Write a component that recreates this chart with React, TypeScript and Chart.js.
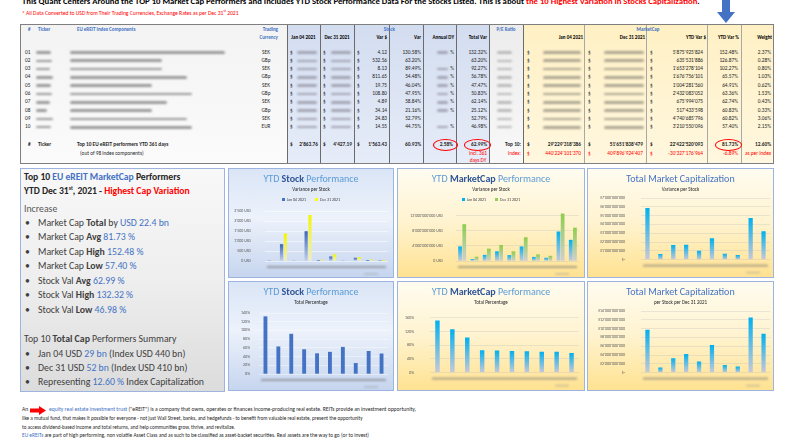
import React, { useEffect, useRef } from "react";
import { Chart, registerables } from "chart.js";
Chart.register(...registerables);

const FONT = "Carlito, Lato, 'Liberation Sans', sans-serif";

// ---------- data ----------
const rowIds = ["01", "02", "03", "04", "05", "06", "07", "08", "09", "10"];
const currencies = ["SEK", "GBp", "SEK", "GBp", "SEK", "GBp", "SEK", "GBp", "SEK", "EUR"];
const stockJanUsd = [3.16, 842.66, 9.08, 1489.81, 42.9, 226.9, 8.31, 161.34, 47.04, 32.51];
const stockDecUsd = [7.28, 1375.22, 17.21, 2301.46, 62.65, 335.7, 13.2, 195.48, 71.87, 47.06];
const stockVarUsd = [4.12, 532.56, 8.13, 811.65, 19.75, 108.8, 4.89, 34.14, 24.83, 14.55];
const stockVarPct = [130.58, 63.2, 89.49, 54.48, 46.04, 47.95, 58.84, 21.16, 52.79, 44.75];
const hasDY = [true, false, true, true, true, true, true, true, false, true];
const stockTotalVarPct = [132.32, 63.2, 92.27, 56.78, 47.47, 50.83, 62.14, 25.12, 52.79, 46.98];
const mcapJan = [3853e6, 501e6, 1617e6, 2557e6, 1547e6, 3838e6, 1077e6, 851e6, 7795e6, 5593e6];
const mcapDec = [9729e6, 1136e6, 3270e6, 4234e6, 2551e6, 6271e6, 1753e6, 1368e6, 12535e6, 8804e6];
const mcapVarUsd = [5875925824, 635531886, 1653278104, 1676756101, 1004281560, 2432083052, 675994075, 517433598, 4740685796, 3210550096];
const mcapVarPct = [152.48, 126.87, 102.27, 65.57, 64.91, 63.36, 62.74, 60.83, 60.82, 57.4];
const weights = [2.37, 0.28, 0.8, 1.03, 0.62, 1.53, 0.43, 0.33, 3.06, 2.15];
const nameBlurW = [155, 92, 92, 117, 82, 122, 97, 82, 117, 122];
const tickerBlurW = [15, 16, 14, 17, 15, 16, 14, 11, 17, 15];

const fmtNum = (n: number, d = 0) => {
  const s = Math.abs(n).toFixed(d);
  const [i, f] = s.split(".");
  const g = i.replace(/\B(?=(\d{3})+(?!\d))/g, "'");
  return (n < 0 ? "-" : "") + g + (f ? "." + f : "");
};

// ---------- helpers ----------
type TP = { x: number; y: number; children?: any; size?: number; bold?: boolean; color?: string; align?: "left" | "right" | "center"; style?: any };
function T({ x, y, children, size = 5.5, bold = false, color = "#262626", align = "left", style = {} }: TP) {
  const s: any = { position: "absolute", top: y, fontSize: size, fontWeight: bold ? 700 : 400, color, whiteSpace: "nowrap", lineHeight: 1, transform: "translateY(-50%)", ...style };
  if (align === "left") s.left = x;
  else if (align === "right") s.right = 800 - x;
  else { s.left = x; s.transform = "translate(-50%,-50%)"; }
  return <div style={s}>{children}</div>;
}
function Blur({ x, y, w, h = 3, color = "#8a8a8a" }: any) {
  return <div style={{ position: "absolute", left: x, top: y - h / 2, width: w, height: h, background: color, filter: "blur(1px)", borderRadius: 2, opacity: 0.85 }} />;
}
function Box({ x, y, w, h, bg, border }: any) {
  return <div style={{ position: "absolute", left: x, top: y, width: w, height: h, background: bg, border, boxSizing: "border-box" }} />;
}

const grad = (c1: string, c2: string) => (ctx: any) => {
  const chart = ctx.chart;
  const ys = chart.scales && chart.scales.y;
  if (!ys || ctx.raw == null || typeof ctx.raw !== "number") return c1;
  const yT = ys.getPixelForValue(ctx.raw);
  const yB = ys.getPixelForValue(0);
  if (!isFinite(yT) || !isFinite(yB) || Math.abs(yB - yT) < 1) return c1;
  const g = chart.ctx.createLinearGradient(0, yT, 0, yB);
  g.addColorStop(0, c1);
  g.addColorStop(1, c2);
  return g;
};

const blurLabels = {
  id: "blurLabels",
  afterDraw(chart: any) {
    const { ctx, chartArea: a } = chart;
    ctx.save();
    ctx.filter = "blur(1.2px)";
    ctx.fillStyle = "rgba(110,110,110,0.55)";
    ctx.fillRect(a.left + 2, a.bottom + 5, a.right - a.left - 4, 2);
    ctx.fillStyle = "rgba(140,140,140,0.35)";
    ctx.fillRect(a.right - 24, a.bottom + 12, 14, 2);
    ctx.restore();
  },
};

type CfgIn = {
  datasets: any[];
  max: number;
  step: number;
  fmt: (v: number) => string;
  axisW: number;
  tickPad: number;
  pad: { top: number; right: number; bottom: number };
  gridColor?: string;
};
function barConfig(c: CfgIn) {
  return {
    type: "bar",
    data: { labels: rowIds, datasets: c.datasets },
    options: {
      responsive: false,
      animation: false,
      events: [],
      layout: { padding: { left: 0, top: c.pad.top, right: c.pad.right, bottom: c.pad.bottom } },
      plugins: { legend: { display: false }, tooltip: { enabled: false }, title: { display: false } },
      scales: {
        x: { display: false, grid: { display: false } },
        y: {
          min: 0,
          max: c.max,
          border: { display: false },
          grid: { color: c.gridColor || "rgba(190,190,190,0.55)", lineWidth: 0.6, drawTicks: false },
          ticks: { stepSize: c.step, padding: c.tickPad, color: "#595959", font: { size: 4, family: FONT }, callback: (v: any) => c.fmt(Number(v)) },
          afterFit: (s: any) => { s.width = c.axisW; },
        },
      },
    },
    plugins: [blurLabels],
  };
}

function ChartBox({ x, y, w, h, cfg }: any) {
  const ref = useRef<HTMLCanvasElement>(null);
  useEffect(() => {
    const ch = new Chart(ref.current as HTMLCanvasElement, cfg() as any);
    return () => ch.destroy();
  }, []);
  return <canvas ref={ref} width={w} height={h} style={{ position: "absolute", left: x, top: y, width: w, height: h }} />;
}

const BLUE = "#4472c4";
const LBLUE = "#5b9bd5";

function Panel({ x, y, w, h, kind, title, sub, legend, chart }: any) {
  const bg = kind === "blue"
    ? "linear-gradient(180deg,#dae5f6 0%,#edf2fb 45%,#c6d5ee 100%)"
    : "linear-gradient(180deg,#fffcf0 0%,#fff3cf 50%,#ffe291 100%)";
  return (
    <>
      <Box x={x} y={y} w={w} h={h} bg={bg} border="1px solid #9db4e0" />
      {chart}
      <div style={{ position: "absolute", left: x, width: w, top: y + 6, textAlign: "center", fontSize: 10, lineHeight: 1, whiteSpace: "nowrap" }}>{title}</div>
      <div style={{ position: "absolute", left: x, width: w, top: y + 19, textAlign: "center", fontSize: 5, lineHeight: 1, color: "#262626", whiteSpace: "nowrap" }}>{sub}</div>
      {legend && (
        <div style={{ position: "absolute", left: x, width: w, top: y + 30, textAlign: "center", fontSize: 4, lineHeight: 1, color: "#404040", whiteSpace: "nowrap" }}>
          <span style={{ display: "inline-block", width: 3, height: 3, background: legend[0][1], marginRight: 2 }} />{legend[0][0]}
          <span style={{ display: "inline-block", width: 3, height: 3, background: legend[1][1], marginLeft: 9, marginRight: 2 }} />{legend[1][0]}
        </div>
      )}
    </>
  );
}

// column geometry for the table
const rowY = (i: number) => 52.5 + i * 8.3;

export default function App() {
  const stockDividers = [287, 320, 354, 389, 423, 456, 489, 523];
  const mcDividers = [584, 646, 707, 741];
  const bulletSize = 9.8;
  return (
    <div style={{ position: "absolute", left: 0, top: 0, width: 800, height: 440, overflow: "hidden", background: "#fff", fontFamily: FONT }}>
      {/* headline */}
      <T x={22} y={1} size={8.7} bold color="#000">
        This Quant Centers Around the TOP 10 Market Cap Performers and Includes YTD Stock Performance Data For the Stocks Listed. This is about <span style={{ color: "#ff0000" }}>the 10 Highest Variation in Stocks Capitalization</span>.
      </T>
      <T x={22} y={12.5} size={5.6} color="#ff0000">* All Data Converted to USD from Their Trading Currencies, Exchange Rates as per Dec 31<sup style={{ fontSize: 3.5 }}>st</sup> 2021</T>

      {/* table backgrounds */}
      <Box x={20} y={24} w={267} h={139} bg="linear-gradient(180deg,#f3f3f3,#fbfbfb)" />
      <Box x={287} y={24} w={202} h={139} bg="linear-gradient(180deg,#d3ddf0,#e6ecf8)" />
      <Box x={489} y={24} w={34} h={139} bg="linear-gradient(180deg,#ececec,#f8f8f8)" />
      <Box x={523} y={24} w={250} h={139} bg="linear-gradient(180deg,#fff0c4,#fff7df)" />
      {stockDividers.map((d) => <div key={d} style={{ position: "absolute", left: d, top: 24, width: 1, height: 139, background: "#6b6b6b" }} />)}
      {mcDividers.map((d) => <div key={d} style={{ position: "absolute", left: d, top: 24, width: 1, height: 139, background: "#a8a8a8" }} />)}
      <Box x={20} y={24} w={754} h={140} bg="transparent" border="1px solid #7f7f7f" />

      {/* blue arrow */}
      <svg style={{ position: "absolute", left: 717, top: 0 }} width={18} height={24}>
        <polygon points="5,0 13,0 13,12 18,12 9,23 0,12 5,12" fill="#4472c4" />
      </svg>

      {/* header */}
      <T x={28} y={29} size={5} bold color={BLUE}>#</T>
      <T x={38} y={29} size={5} bold color={BLUE}>Ticker</T>
      <T x={77} y={29} size={5} bold color={BLUE}>EU eREIT Index Components</T>
      <T x={278} y={29} size={5} bold color={BLUE} align="right">Trading</T>
      <T x={278} y={37} size={5} bold color={BLUE} align="right">Currency</T>
      <T x={395} y={29} size={5} bold color={BLUE} align="right">Stock</T>
      <T x={506} y={29} size={5} bold color={BLUE} align="center">P/E Ratio</T>
      <T x={648} y={29} size={5} bold color={BLUE} align="center">MarketCap</T>
      <T x={303.5} y={36.5} size={5} bold color="#000" align="center">Jan 04 2021</T>
      <T x={337} y={36.5} size={5} bold color="#000" align="center">Dec 31 2021</T>
      <T x={387} y={36.5} size={5} bold color="#000" align="right">Var $</T>
      <T x={421} y={36.5} size={5} bold color="#000" align="right">Var</T>
      <T x={454} y={36.5} size={5} bold color="#000" align="right">Annual DY</T>
      <T x={487} y={36.5} size={5} bold color="#000" align="right">Total Var</T>
      <T x={583} y={36.5} size={5} bold color="#000" align="right">Jan 04 2021</T>
      <T x={645} y={36.5} size={5} bold color="#000" align="right">Dec 31 2021</T>
      <T x={706} y={36.5} size={5} bold color="#000" align="right">YTD Var $</T>
      <T x={739} y={36.5} size={5} bold color="#000" align="right">YTD Var %</T>
      <T x={772} y={36.5} size={5} bold color="#000" align="right">Weight</T>

      {/* rows */}
      {rowIds.map((id, i) => {
        const y = rowY(i);
        return (
          <React.Fragment key={id}>
            <T x={25} y={y} size={5.3}>{id}</T>
            <Blur x={36} y={y} w={tickerBlurW[i]} h={2.5} />
            <Blur x={70} y={y} w={nameBlurW[i]} h={2.8} />
            <T x={266} y={y} size={5.3} align="center">{currencies[i]}</T>
            <T x={290} y={y} size={5.3}>$</T>
            <Blur x={297} y={y} w={20} h={2.6} color="#9a9aa8" />
            <T x={323} y={y} size={5.3}>$</T>
            <Blur x={331} y={y} w={20} h={2.6} color="#9a9aa8" />
            <T x={357} y={y} size={5.3}>$</T>
            <T x={387} y={y} size={5.3} align="right">{fmtNum(stockVarUsd[i], 2)}</T>
            <T x={421} y={y} size={5.3} align="right">{stockVarPct[i].toFixed(2)}%</T>
            {hasDY[i] && <Blur x={437} y={y} w={11} h={2.6} color="#9a9aa8" />}
            {hasDY[i] && <T x={454} y={y} size={5.3} align="right">%</T>}
            <T x={487} y={y} size={5.3} align="right">{stockTotalVarPct[i].toFixed(2)}%</T>
            <Blur x={497} y={y} w={15} h={2.6} color="#b0b0b0" />
            <T x={527} y={y} size={5.3}>$</T>
            <Blur x={543} y={y} w={38} h={2.8} color="#a09a88" />
            <T x={588} y={y} size={5.3}>$</T>
            <Blur x={604} y={y} w={40} h={2.8} color="#a09a88" />
            <T x={650} y={y} size={5.3}>$</T>
            <T x={703} y={y} size={5.3} align="right">{fmtNum(mcapVarUsd[i])}</T>
            <T x={738} y={y} size={5.3} align="right">{mcapVarPct[i].toFixed(2)}%</T>
            <T x={771} y={y} size={5.3} align="right">{weights[i].toFixed(2)}%</T>
          </React.Fragment>
        );
      })}

      {/* totals */}
      <T x={28} y={145} size={5.3} bold>#</T>
      <T x={38} y={145} size={5.3} bold>Ticker</T>
      <T x={77} y={145} size={5.3} bold>Top 10 EU eREIT performers YTD 361 days</T>
      <T x={80} y={154} size={5.3}>(out of 98 index components)</T>
      <T x={290} y={145} size={5.3} bold>$</T>
      <T x={318} y={145} size={5.3} bold align="right">2'863.76</T>
      <T x={323} y={145} size={5.3} bold>$</T>
      <T x={352} y={145} size={5.3} bold align="right">4'427.19</T>
      <T x={357} y={145} size={5.3} bold>$</T>
      <T x={387} y={145} size={5.3} bold align="right">1'563.43</T>
      <T x={421} y={145} size={5.3} bold align="right">60.93%</T>
      <T x={453} y={145} size={5.3} bold align="right">2.58%</T>
      <T x={487} y={145} size={5.3} bold align="right">62.99%</T>
      <T x={521} y={145} size={5.3} bold align="right">Top 10:</T>
      <T x={527} y={145} size={5.3} bold>$</T>
      <T x={581} y={145} size={5.3} bold align="right">29'229'318'386</T>
      <T x={588} y={145} size={5.3} bold>$</T>
      <T x={643} y={145} size={5.3} bold align="right">51'651'838'479</T>
      <T x={650} y={145} size={5.3} bold>$</T>
      <T x={703} y={145} size={5.3} bold align="right">22'422'520'093</T>
      <T x={738} y={145} size={5.3} bold align="right">81.73%</T>
      <T x={771} y={145} size={5.3} bold align="right">12.60%</T>
      <T x={478} y={153.5} size={5.3} color="#ff0000" align="center">incl. 361</T>
      <T x={478} y={161} size={5.3} color="#ff0000" align="center">days DY</T>
      <T x={521} y={153.5} size={5.3} color="#ff0000" align="right">Index:</T>
      <T x={527} y={153.5} size={5.3} color="#ff0000">$</T>
      <T x={581} y={153.5} size={5.3} color="#ff0000" align="right">440'224'101'370</T>
      <T x={588} y={153.5} size={5.3} color="#ff0000">$</T>
      <T x={643} y={153.5} size={5.3} color="#ff0000" align="right">409'896'924'407</T>
      <T x={650} y={153.5} size={5.3} color="#ff0000">$</T>
      <T x={703} y={153.5} size={5.3} color="#ff0000" align="right">-30'327'176'964</T>
      <T x={738} y={153.5} size={5.3} color="#ff0000" align="right">-6.89%</T>
      <T x={771} y={153.5} size={5.3} color="#ff0000" align="right">as per Index</T>
      {[[445, 145, 25], [477, 145, 27], [728, 145, 27]].map(([cx, cy, w]) => (
        <div key={cx} style={{ position: "absolute", left: cx - w / 2, top: cy - 6, width: w, height: 12, border: "1px solid #ff0000", borderRadius: "50%", boxSizing: "border-box" }} />
      ))}

      {/* left summary panel */}
      <Box x={20} y={168} w={205} h={224} bg="linear-gradient(180deg,#f8f8f8 0%,#eeeeee 50%,#dcdcdc 100%)" border="1px solid #9db4e0" />
      <T x={24} y={178} size={9.6} bold color="#262626">Top 10 <span style={{ color: BLUE }}>EU eREIT MarketCap</span> Performers</T>
      <T x={24} y={190.5} size={9.6} bold color="#262626">YTD Dec 31<sup style={{ fontSize: 5.5 }}>st</sup>, 2021 - <span style={{ color: "#ff0000" }}>Highest Cap Variation</span></T>
      <T x={24} y={209.5} size={bulletSize} color="#595959">Increase</T>
      {[
        [<>Market Cap <b>Total</b> by </>, "USD 22.4 bn"],
        [<>Market Cap <b>Avg</b> </>, "81.73 %"],
        [<>Market Cap <b>High</b> </>, "152.48 %"],
        [<>Market Cap <b>Low</b> </>, "57.40 %"],
        [<>Stock Val <b>Avg</b> </>, "62.99 %"],
        [<>Stock Val <b>High</b> </>, "132.32 %"],
        [<>Stock Val <b>Low</b> </>, "46.98 %"],
      ].map((b: any, i) => (
        <React.Fragment key={i}>
          <T x={25} y={223.5 + i * 14.5} size={bulletSize} color="#404040">•</T>
          <T x={38} y={223.5 + i * 14.5} size={bulletSize} color="#404040">{b[0]}<span style={{ color: BLUE }}>{b[1]}</span></T>
        </React.Fragment>
      ))}
      <T x={24} y={340} size={bulletSize} color="#404040">Top 10 <b>Total Cap</b> Performers Summary</T>
      {[
        ["Jan 04 USD ", "29 bn", " (Index USD 440 bn)"],
        ["Dec 31 USD ", "52 bn", " (Index USD 410 bn)"],
        ["Representing ", "12.60 %", " Index Capitalization"],
      ].map((b, i) => (
        <React.Fragment key={i}>
          <T x={25} y={355 + i * 14.2} size={bulletSize} color="#404040">•</T>
          <T x={38} y={355 + i * 14.2} size={bulletSize} color="#404040">{b[0]}<span style={{ color: BLUE }}>{b[1]}</span>{b[2]}</T>
        </React.Fragment>
      ))}

      {/* chart panels */}
      <Panel x={228} y={168} w={166} h={110} kind="blue"
        title={<><span style={{ color: LBLUE }}>YTD </span><b style={{ color: "#2f5597" }}>Stock</b><span style={{ color: LBLUE }}> Performance</span></>}
        sub="Variance per Stock" legend={[["Jan 04 2021", "#4472c4"], ["Dec 31 2021", "#ffff00"]]}
        chart={<ChartBox x={228} y={168} w={166} h={110} cfg={() => barConfig({
          datasets: [
            { label: "Jan 04 2021", data: stockJanUsd, backgroundColor: grad("#3a66b8", "#c4d0e8"), categoryPercentage: 0.62, barPercentage: 0.85 },
            { label: "Dec 31 2021", data: stockDecUsd, backgroundColor: grad("#f5f500", "#eeeec8"), categoryPercentage: 0.62, barPercentage: 0.85 },
          ],
          max: 2500, step: 500, fmt: (v) => fmtNum(v) + " USD", axisW: 37, tickPad: 14,
          pad: { top: 43, right: 6, bottom: 17 }, gridColor: "rgba(255,255,255,0.9)",
        })} />} />
      <Panel x={397} y={168} w={188} h={110} kind="yellow"
        title={<><span style={{ color: LBLUE }}>YTD </span><b style={{ color: "#2f5597" }}>MarketCap</b><span style={{ color: LBLUE }}> Performance</span></>}
        sub="Variance per Stock" legend={[["Jan 04 2021", "#00b0f0"], ["Dec 31 2021", "#92d050"]]}
        chart={<ChartBox x={397} y={168} w={188} h={110} cfg={() => barConfig({
          datasets: [
            { label: "Jan 04 2021", data: mcapJan, backgroundColor: grad("#00b0f0", "#c9c9d6"), categoryPercentage: 0.68, barPercentage: 0.9 },
            { label: "Dec 31 2021", data: mcapDec, backgroundColor: grad("#8fce4c", "#cfcfd2"), categoryPercentage: 0.68, barPercentage: 0.9 },
          ],
          max: 14e9, step: 2e9, fmt: (v) => fmtNum(v) + " USD", axisW: 59, tickPad: 13,
          pad: { top: 40, right: 6, bottom: 17 },
        })} />} />
      <Panel x={587} y={168} w={187} h={110} kind="yellow"
        title={<span style={{ color: BLUE }}>Total Market Capitalization</span>}
        sub="Variance per Stock"
        chart={<ChartBox x={587} y={168} w={187} h={110} cfg={() => barConfig({
          datasets: [{ label: "YTD Var $", data: mcapVarUsd, backgroundColor: grad("#00b0f0", "#c9c9d6"), categoryPercentage: 1, barPercentage: 0.33 }],
          max: 7e9, step: 1e9, fmt: (v) => (v === 0 ? "$-" : "$" + fmtNum(v)), axisW: 54, tickPad: 16,
          pad: { top: 30, right: 4, bottom: 16 },
        })} />} />
      <Panel x={228} y={281} w={166} h={110} kind="blue"
        title={<><span style={{ color: LBLUE }}>YTD </span><b style={{ color: "#2f5597" }}>Stock</b><span style={{ color: LBLUE }}> Performance</span></>}
        sub="Total Percentage"
        chart={<ChartBox x={228} y={281} w={166} h={110} cfg={() => barConfig({
          datasets: [{ label: "Total Var", data: stockTotalVarPct, backgroundColor: "#4472c4", categoryPercentage: 1, barPercentage: 0.3 }],
          max: 140, step: 20, fmt: (v) => v + "%", axisW: 31, tickPad: 9,
          pad: { top: 32, right: 6, bottom: 17 }, gridColor: "rgba(255,255,255,0.7)",
        })} />} />
      <Panel x={397} y={281} w={188} h={110} kind="yellow"
        title={<><span style={{ color: LBLUE }}>YTD </span><b style={{ color: "#2f5597" }}>MarketCap</b><span style={{ color: LBLUE }}> Performance</span></>}
        sub="Total Percentage"
        chart={<ChartBox x={397} y={281} w={188} h={110} cfg={() => barConfig({
          datasets: [{ label: "YTD Var %", data: mcapVarPct, backgroundColor: grad("#00b0f0", "#c9c9d6"), categoryPercentage: 1, barPercentage: 0.3 }],
          max: 180, step: 20, fmt: (v) => v + "%", axisW: 33, tickPad: 16,
          pad: { top: 30, right: 6, bottom: 10 },
        })} />} />
      <Panel x={587} y={281} w={187} h={110} kind="yellow"
        title={<span style={{ color: BLUE }}>Total Market Capitalization</span>}
        sub="per Stock per Dec 31 2021"
        chart={<ChartBox x={587} y={281} w={187} h={110} cfg={() => barConfig({
          datasets: [{ label: "Dec 31 2021", data: mcapDec, backgroundColor: grad("#00b0f0", "#c9c9d6"), categoryPercentage: 1, barPercentage: 0.33 }],
          max: 14e9, step: 2e9, fmt: (v) => (v === 0 ? "$-" : "$" + fmtNum(v)), axisW: 54, tickPad: 16,
          pad: { top: 30, right: 4, bottom: 16 },
        })} />} />

      {/* footer */}
      <T x={22} y={410} size={5.6} color="#262626">An</T>
      <svg style={{ position: "absolute", left: 30, top: 406 }} width={16} height={9}>
        <polygon points="0,2.5 9,2.5 9,0 16,4.5 9,9 9,6.5 0,6.5" fill="#ff0000" />
      </svg>
      <T x={49} y={410} size={5.6} color="#262626"><span style={{ color: BLUE }}>equity real estate investment trust</span> ("eREIT") is a company that owns, operates or finances income-producing real estate. REITs provide an investment opportunity,</T>
      <T x={22} y={419} size={5.2} color="#262626">like a mutual fund, that makes it possible for everyone - not just Wall Street, banks, and hedgefunds - to benefit from valuable real estate, present the opportunity</T>
      <T x={22} y={427.5} size={5.2} color="#262626">to access dividend-based income and total returns, and help communities grow, thrive, and revitalize.</T>
      <T x={22} y={435.5} size={5.4} color="#262626"><span style={{ color: BLUE }}>EU eREITs</span> are part of high performing, non volatile Asset Class and as such to be classified as asset-backet securities. Real assets are the way to go (or to invest)</T>
    </div>
  );
}
